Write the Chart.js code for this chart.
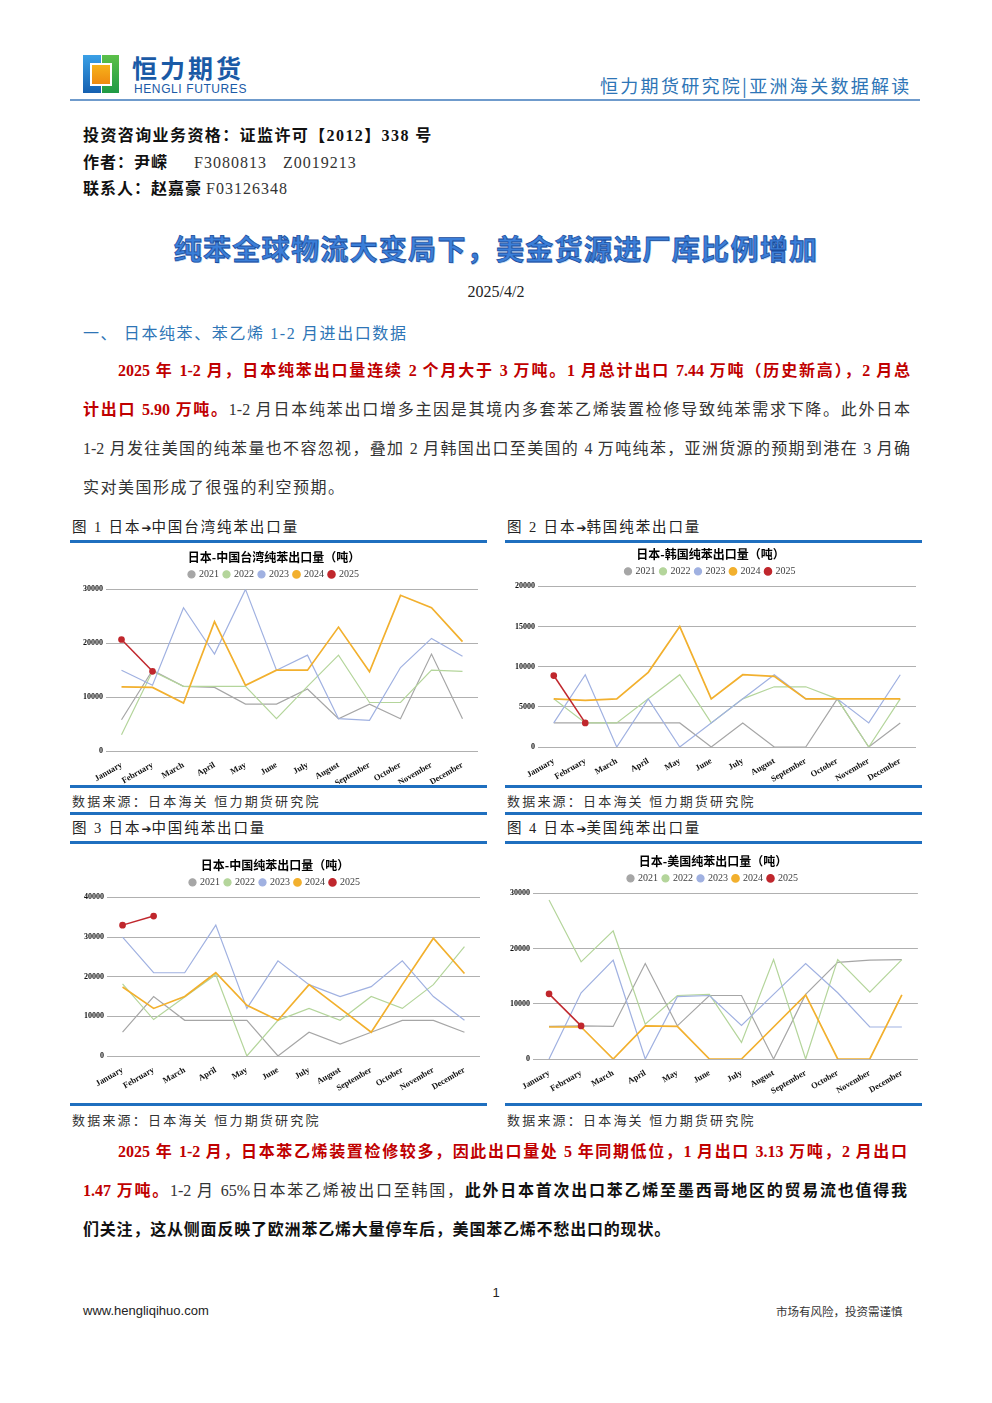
<!DOCTYPE html>
<html>
<head>
<meta charset="utf-8">
<script src="https://cdn.jsdelivr.net/npm/chart.js@4.4.1/dist/chart.umd.min.js"></script>
<style>
body { margin: 0; background: #fff; }
#page { position: relative; width: 992px; height: 1403px; overflow: hidden; background: #fff;
  font-family: "Liberation Serif", "Noto Sans CJK SC", serif; color: #111; }
.abs { position: absolute; white-space: nowrap; }
.cjk { font-family: "Noto Sans CJK SC", sans-serif; }
.bar { position: absolute; height: 3px; background: #1f6fbf; }
.cap { position: absolute; font-size: 14.5px; color: #222; letter-spacing: 1.9px; white-space: nowrap; line-height: 20px; }
.arrow { font-family: "DejaVu Sans", sans-serif; font-size: 12px; letter-spacing: 0; }
.src { position: absolute; font-size: 13px; color: #333; letter-spacing: 2.2px; white-space: nowrap; }
.line { position: absolute; left: 83px; width: 827px; font-size: 16px; line-height: 20px;
  text-align: justify; text-align-last: justify; white-space: normal; }
.red { color: #c00000; font-weight: bold; }
.b { font-weight: bold; color: #111; }
.n { color: #333; }
.box { position: absolute; }
</style>
</head>
<body>
<div id="page">
  <!-- header -->
  <div class="box" style="left:83px;top:55px;width:36px;height:38px;">
    <div class="box" style="left:0;top:0;width:18px;height:38px;background:linear-gradient(#3aa0e6,#1560b0);"></div>
    <div class="box" style="left:19px;top:0;width:17px;height:38px;background:linear-gradient(#5cc04a,#1f9a45);"></div>
    <div class="box" style="left:7px;top:8px;width:22px;height:23px;background:#fff;"></div>
    <div class="box" style="left:9px;top:10px;width:18px;height:19px;background:linear-gradient(#f6b21a,#ef8a10);"></div>
  </div>
  <div class="abs cjk" style="left:132px;top:53px;line-height:28px;font-size:25px;font-weight:bold;color:#1a5aa6;letter-spacing:3px;">恒力期货</div>
  <div class="abs" style="left:134px;top:83px;line-height:12px;font-family:'Liberation Sans',sans-serif;font-size:12px;color:#1a5aa6;letter-spacing:0.6px;">HENGLI FUTURES</div>
  <div class="abs cjk" style="left:600px;top:72px;font-size:18px;color:#2e75b6;letter-spacing:2.3px;">恒力期货研究院|亚洲海关数据解读</div>
  <div class="box" style="left:70px;top:99px;width:850px;height:2px;background:#6f9bcc;"></div>

  <div class="abs b" style="left:83px;top:122px;font-size:16px;letter-spacing:1.4px;">投资咨询业务资格：证监许可【2012】338 号</div>
  <div class="abs" style="left:83px;top:149px;font-size:16px;letter-spacing:1px;"><span class="b">作者：尹嵘</span><span class="n" style="margin-left:26px;">F3080813</span><span class="n" style="margin-left:16px;">Z0019213</span></div>
  <div class="abs" style="left:83px;top:175px;font-size:16px;letter-spacing:1px;"><span class="b">联系人：赵嘉豪</span><span class="n" style="margin-left:4px;">F03126348</span></div>

  <div class="abs cjk" style="left:0;width:992px;text-align:center;top:228px;font-size:28px;letter-spacing:1.3px;font-weight:bold;color:#3b7fd9;-webkit-text-stroke:0.8px #1b4d9c;text-shadow:1px 1px 0 #b7d3f4;">纯苯全球物流大变局下，美金货源进厂库比例增加</div>
  <div class="abs" style="left:0;width:992px;text-align:center;top:283px;font-size:16px;color:#222;">2025/4/2</div>
  <div class="abs" style="left:83px;top:320px;font-size:16px;letter-spacing:1.6px;color:#2e75b6;">一、 日本纯苯、苯乙烯 1-2 月进出口数据</div>

  <div class="line" style="left:118px;width:792px;top:361px;"><span class="red">2025 年 1-2 月，日本纯苯出口量连续 2 个月大于 3 万吨。1 月总计出口 7.44 万吨（历史新高），2 月总</span></div>
  <div class="line" style="top:400px;"><span class="red">计出口 5.90 万吨。</span><span class="n">1-2 月日本纯苯出口增多主因是其境内多套苯乙烯装置检修导致纯苯需求下降。此外日本</span></div>
  <div class="line n" style="top:439px;">1-2 月发往美国的纯苯量也不容忽视，叠加 2 月韩国出口至美国的 4 万吨纯苯，亚洲货源的预期到港在 3 月确</div>
  <div class="line n" style="top:478px;text-align-last:left;letter-spacing:1.5px;">实对美国形成了很强的利空预期。</div>

  <!-- figure captions and rules -->
  <div class="cap" style="left:72px;top:517px;">图 1 日本<span class="arrow">➔</span>中国台湾纯苯出口量</div>
  <div class="cap" style="left:507px;top:517px;">图 2 日本<span class="arrow">➔</span>韩国纯苯出口量</div>
  <div class="bar" style="left:70px;top:540px;width:417px;"></div>
  <div class="bar" style="left:505px;top:540px;width:417px;"></div>
  <div class="bar" style="left:70px;top:785px;width:417px;"></div>
  <div class="bar" style="left:505px;top:785px;width:417px;"></div>
  <div class="src" style="left:72px;top:791px;">数据来源：日本海关 恒力期货研究院</div>
  <div class="src" style="left:507px;top:791px;">数据来源：日本海关 恒力期货研究院</div>
  <div class="bar" style="left:70px;top:812px;width:417px;"></div>
  <div class="bar" style="left:505px;top:812px;width:417px;"></div>
  <div class="cap" style="left:72px;top:818px;">图 3 日本<span class="arrow">➔</span>中国纯苯出口量</div>
  <div class="cap" style="left:507px;top:818px;">图 4 日本<span class="arrow">➔</span>美国纯苯出口量</div>
  <div class="bar" style="left:70px;top:841px;width:417px;"></div>
  <div class="bar" style="left:505px;top:841px;width:417px;"></div>
  <div class="bar" style="left:70px;top:1103px;width:417px;"></div>
  <div class="bar" style="left:505px;top:1103px;width:417px;"></div>
  <div class="src" style="left:72px;top:1110px;">数据来源：日本海关 恒力期货研究院</div>
  <div class="src" style="left:507px;top:1110px;">数据来源：日本海关 恒力期货研究院</div>

  <!-- charts -->
  <div class="box" style="left:70px;top:544px;width:417px;height:240px;"><canvas id="chTaiwan"></canvas></div>
  <div class="box" style="left:505px;top:544px;width:417px;height:240px;"><canvas id="chKorea"></canvas></div>
  <div class="box" style="left:70px;top:844px;width:417px;height:258px;"><canvas id="chChina"></canvas></div>
  <div class="box" style="left:505px;top:844px;width:417px;height:258px;"><canvas id="chUS"></canvas></div>

  <div class="line" style="left:118px;width:789px;top:1142px;"><span class="red">2025 年 1-2 月，日本苯乙烯装置检修较多，因此出口量处 5 年同期低位，1 月出口 3.13 万吨，2 月出口</span></div>
  <div class="line" style="top:1181px;width:824px;"><span class="red">1.47 万吨。</span><span class="n">1-2 月 65%日本苯乙烯被出口至韩国，</span><span class="b">此外日本首次出口苯乙烯至墨西哥地区的贸易流也值得我</span></div>
  <div class="line b" style="top:1220px;text-align-last:left;letter-spacing:0.8px;">们关注，这从侧面反映了欧洲苯乙烯大量停车后，美国苯乙烯不愁出口的现状。</div>

  <!-- footer -->
  <div class="abs" style="left:0;width:992px;text-align:center;top:1285px;font-family:'Liberation Sans',sans-serif;font-size:13px;color:#222;">1</div>
  <div class="abs" style="left:83px;top:1303px;font-family:'Liberation Sans',sans-serif;font-size:13px;color:#222;">www.hengliqihuo.com</div>
  <div class="abs cjk" style="left:776px;top:1303px;font-size:11.5px;color:#333;">市场有风险，投资需谨慎</div>
</div>

<script>
// categories
const months = ['January','February','March','April','May','June','July','August','September','October','November','December'];
const years = ['2021','2022','2023','2024','2025'];
const lineColors = ['#a6a6a6','#b4d59b','#a0b1e1','#f2b02e','#c0272d'];

// 日本-中国台湾
const taiwan2021 = [5800,15000,12000,11800,8700,8700,11500,6000,8700,6000,18000,6000];
const taiwan2022 = [3000,14800,12000,12000,12000,6000,12000,17800,9000,9000,15000,14800];
const taiwan2023 = [15000,12200,26600,18000,30000,15000,17800,6000,5700,15500,20900,17600];
const taiwan2024 = [11900,11800,8900,24000,12200,15000,15000,23000,14700,28900,26600,20300];
const taiwan2025 = [20700,14800];

// 日本-韩国
const korea2021 = [3000,3000,3000,3000,3000,0,3000,0,0,6000,0,3000];
const korea2022 = [6000,3000,3000,6000,9000,3000,6000,7500,7500,6000,0,6000];
const korea2023 = [3000,9000,0,6000,0,3000,6000,9000,6000,6000,3000,9000];
const korea2024 = [6000,5800,6000,9300,15000,6000,9000,8800,6000,6000,6000,6000];
const korea2025 = [8900,3000];

// 日本-中国
const china2021 = [6000,15000,9000,9000,9000,0,6000,3000,6000,9000,9000,6000];
const china2022 = [18200,9200,14900,20500,0,9000,12000,9000,15000,12000,18000,27600];
const china2023 = [30000,21000,21000,33000,12000,24000,18000,15000,17500,24000,15000,9000];
const china2024 = [17400,12000,15000,21000,12800,9000,18000,12000,6000,18000,29700,20800];
const china2025 = [33000,35300];

// 日本-美国
const us2021 = [5900,6000,5900,17300,6000,11500,11500,0,11700,17500,17900,18000];
const us2022 = [28800,17600,23200,6300,11500,11700,3000,18000,0,18000,12100,18000];
const us2023 = [0,12000,17900,0,11300,11500,6100,11700,17300,12000,5800,5800];
const us2024 = [5800,5800,0,6000,5900,0,0,5800,11600,0,0,11600];
const us2025 = [11800,6000];

function buildChart(id, title, series, yMax, yStep, lay) {
  const datasets = series.map((vals, i) => ({
    label: years[i],
    data: vals,
    borderColor: lineColors[i],
    backgroundColor: lineColors[i],
    borderWidth: i === 3 ? 1.7 : (i === 4 ? 1.5 : 1.2),
    pointRadius: i === 4 ? 2.6 : 0,
    pointHoverRadius: 0,
    tension: 0,
    order: 4 - i   // 2025 drawn on top
  }));
  new Chart(document.getElementById(id), {
    type: 'line',
    data: { labels: months, datasets: datasets },
    options: {
      responsive: true,
      maintainAspectRatio: false,
      animation: false,
      layout: { padding: { left: 0, right: lay.right, top: lay.top, bottom: 0 } },
      plugins: {
        tooltip: { enabled: false },
        title: {
          display: true, text: title, color: '#000',
          font: { family: 'Noto Sans CJK SC', size: 12, weight: 'bold' },
          padding: { top: 0, bottom: 0 }
        },
        legend: {
          display: true,
          labels: {
            usePointStyle: true, pointStyle: 'circle', boxWidth: 5, boxHeight: 5,
            padding: 5, color: '#404040',
            font: { family: 'Liberation Serif', size: 10 },
            sort: (a, b) => a.datasetIndex - b.datasetIndex
          }
        }
      },
      scales: {
        x: {
          offset: true,
          grid: { display: false },
          border: { display: false },
          ticks: {
            autoSkip: false, minRotation: 30, maxRotation: 30, padding: 1, color: '#111',
            font: { family: 'Liberation Serif', size: 8.5, weight: 'bold' }
          },
          afterFit: s => { s.height = lay.xH; }
        },
        y: {
          min: 0, max: yMax,
          grid: { color: '#b0b0b0', borderDash: [1.5, 3], drawTicks: false, lineWidth: 1 },
          border: { display: false },
          ticks: {
            stepSize: yStep, padding: 3, color: '#111',
            font: { family: 'Liberation Serif', size: 8, weight: 'bold' },
            callback: v => String(v)
          },
          afterFit: s => { s.width = lay.yW; }
        }
      }
    }
  });
}

buildChart('chTaiwan', '日本-中国台湾纯苯出口量（吨）',
  [taiwan2021, taiwan2022, taiwan2023, taiwan2024, taiwan2025], 30000, 10000,
  { top: 6, right: 9, xH: 33, yW: 36 });
buildChart('chKorea', '日本-韩国纯苯出口量（吨）',
  [korea2021, korea2022, korea2023, korea2024, korea2025], 20000, 5000,
  { top: 3, right: 6, xH: 37, yW: 33 });
buildChart('chChina', '日本-中国纯苯出口量（吨）',
  [china2021, china2022, china2023, china2024, china2025], 40000, 10000,
  { top: 14, right: 7, xH: 46, yW: 37 });
buildChart('chUS', '日本-美国纯苯出口量（吨）',
  [us2021, us2022, us2023, us2024, us2025], 30000, 10000,
  { top: 10, right: 1, xH: 43, yW: 28 });
</script>
</body>
</html>
